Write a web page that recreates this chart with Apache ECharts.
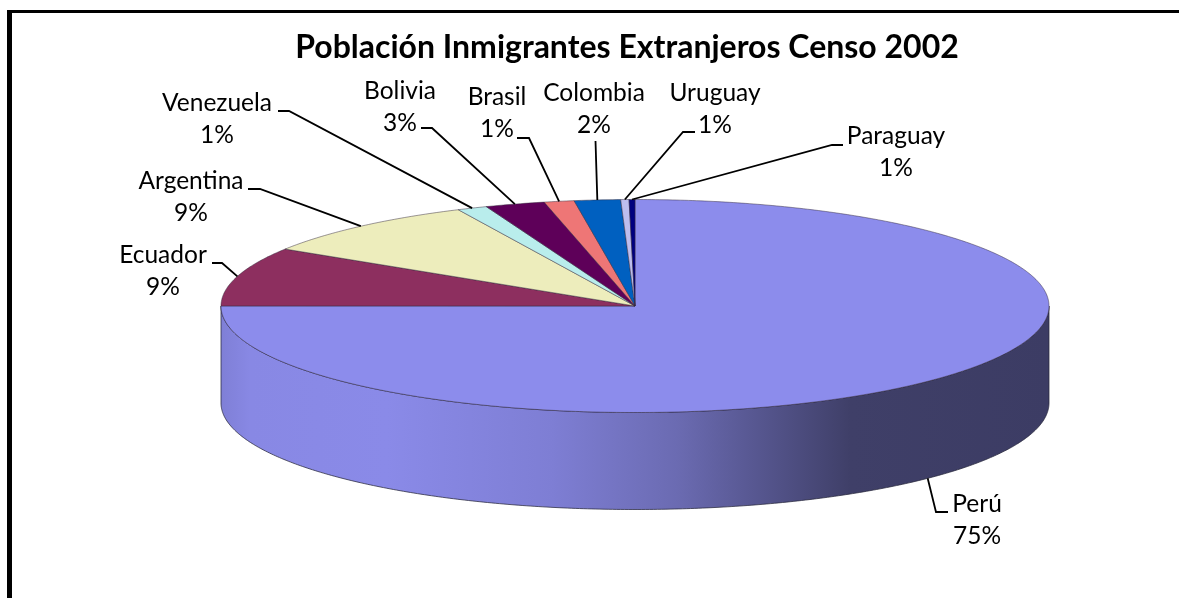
<!DOCTYPE html>
<html><head><meta charset="utf-8">
<style>html,body{margin:0;padding:0;background:#fff}#c{width:1179px;height:598px}</style>
<script src="https://cdn.jsdelivr.net/npm/echarts@6/dist/echarts.min.js"></script>
</head><body><div id="c"></div>
<script>
// Clockwise from 12 o'clock
const categories = ['Perú','Ecuador','Argentina','Venezuela','Bolivia','Brasil','Colombia','Uruguay','Paraguay'];
// Share of the pie as drawn
const shares = [75.0, 8.97, 9.0, 1.17, 2.33, 1.17, 1.8, 0.32, 0.23];
// Percent text as printed in the chart
const percentLabels = ['75%','9%','9%','1%','3%','1%','2%','1%','1%'];
const colors = ['#8C8CEC','#8D2F5F','#EDEDBC','#B9EDEC','#5E0059','#EE7676','#0060C0','#BDBDEE','#000080'];
const titleText = 'Población Inmigrantes Extranjeros Censo 2002';

// Layout of the tilted disc and its label boxes (not data)
const disc = {cx:635, cy:306, rx:414, ry:106.5, depth:97};
const labelBoxes = [
  {x:977,y:504,elbow:[[948,512],[936,512]],onSide:true},
  {x:163,y:255,elbow:[[212,263],[222,263]]},
  {x:191,y:181,elbow:[[248,189],[260,189]]},
  {x:217,y:103,elbow:[[278,111],[289,111]]},
  {x:400,y:91, elbow:[[421,128],[432,128]]},
  {x:497,y:97, elbow:[[517,138],[529,138]]},
  {x:594,y:93, elbow:[[595.5,141]]},
  {x:715,y:93, elbow:[[695,132],[683,132]]},
  {x:896,y:136,elbow:[[843,145],[832,145]]}
];
const total = shares.reduce((a,b)=>a+b,0);
const starts = []; shares.reduce((a,b,i)=>{starts[i]=a;return a+b;},0);
const ang = v => v/total*Math.PI*2;
const rim = (t,dy=0) => [disc.cx+disc.rx*Math.sin(t), disc.cy-disc.ry*Math.cos(t)+dy];
function arc(t0,t1,dy){const n=Math.max(2,Math.ceil((t1-t0)/0.01));const p=[];
  for(let i=0;i<=n;i++)p.push(rim(t0+(t1-t0)*i/n,dy));return p;}

const sideFill = {type:'linear',global:true,x:disc.cx-disc.rx,y:0,x2:disc.cx+disc.rx,y2:0,colorStops:[
  {offset:0,color:'#7F7FD6'},{offset:0.035,color:'#8888E4'},{offset:0.2,color:'#8A8AE8'},
  {offset:0.4,color:'#7E7ED4'},{offset:0.55,color:'#6B6BB2'},{offset:0.65,color:'#56568F'},
  {offset:0.76,color:'#3F3F68'},{offset:1,color:'#3C3C64'}]};

function renderSide(p,api){
  const i=p.dataIndex, a0=ang(starts[i]), a1=a0+ang(api.value(0));
  const t0=Math.max(a0,Math.PI/2), t1=Math.min(a1,Math.PI*1.5);
  if(t1<=t0) return null;
  const top=arc(t0,t1,0), bot=arc(t0,t1,disc.depth).reverse();
  return {type:'polygon',shape:{points:top.concat(bot)},
    style:{fill:sideFill,stroke:'rgba(40,40,60,0.75)',lineWidth:1}};
}
function renderTop(p,api){
  const i=p.dataIndex, a0=ang(starts[i]), a1=a0+ang(api.value(0));
  return {type:'polygon',shape:{points:[[disc.cx,disc.cy]].concat(arc(a0,a1,0))},
    style:{fill:colors[i],stroke:'rgba(50,40,60,0.6)',lineWidth:0.8}};
}
function renderLabel(p,api){
  const i=p.dataIndex, box=labelBoxes[i];
  const mid=ang(starts[i]+api.value(0)/2);
  const start=rim(mid,box.onSide?disc.depth:0);
  const line=[start].concat(box.elbow.slice().reverse());
  return {type:'group',children:[
    {type:'polyline',shape:{points:line},style:{fill:null,stroke:'#000',lineWidth:1.8}},
    {type:'text',style:{text:categories[i],x:box.x,y:box.y,align:'center',verticalAlign:'middle',
      font:'24.5px Lato, sans-serif',fill:'#000'}},
    {type:'text',style:{text:percentLabels[i],x:box.x,y:box.y+32,align:'center',verticalAlign:'middle',
      font:'24.5px Lato, sans-serif',fill:'#000'}}
  ]};
}
const chart = echarts.init(document.getElementById('c'),null,{renderer:'canvas'});
chart.setOption({
  animation:false,
  backgroundColor:'#fff',
  title:{text:titleText,left:622,top:43,textAlign:'center',textVerticalAlign:'middle',
    textStyle:{fontFamily:'Lato, sans-serif',fontWeight:'bold',fontSize:32,color:'#000'}},
  graphic:[
    {type:'rect',silent:true,shape:{x:7,y:10,width:5,height:588},style:{fill:'#000'}},
    {type:'rect',silent:true,shape:{x:7,y:10,width:1172,height:3},style:{fill:'#000'}}
  ],
  series:[
    {type:'custom',name:'Lateral',coordinateSystem:'none',data:shares,renderItem:renderSide,silent:true,z:1},
    {type:'custom',name:'Superficie',coordinateSystem:'none',data:shares,renderItem:renderTop,silent:true,z:2},
    {type:'custom',name:'Etiquetas',coordinateSystem:'none',data:shares,renderItem:renderLabel,silent:true,z:3}
  ]
});
</script></body></html>
